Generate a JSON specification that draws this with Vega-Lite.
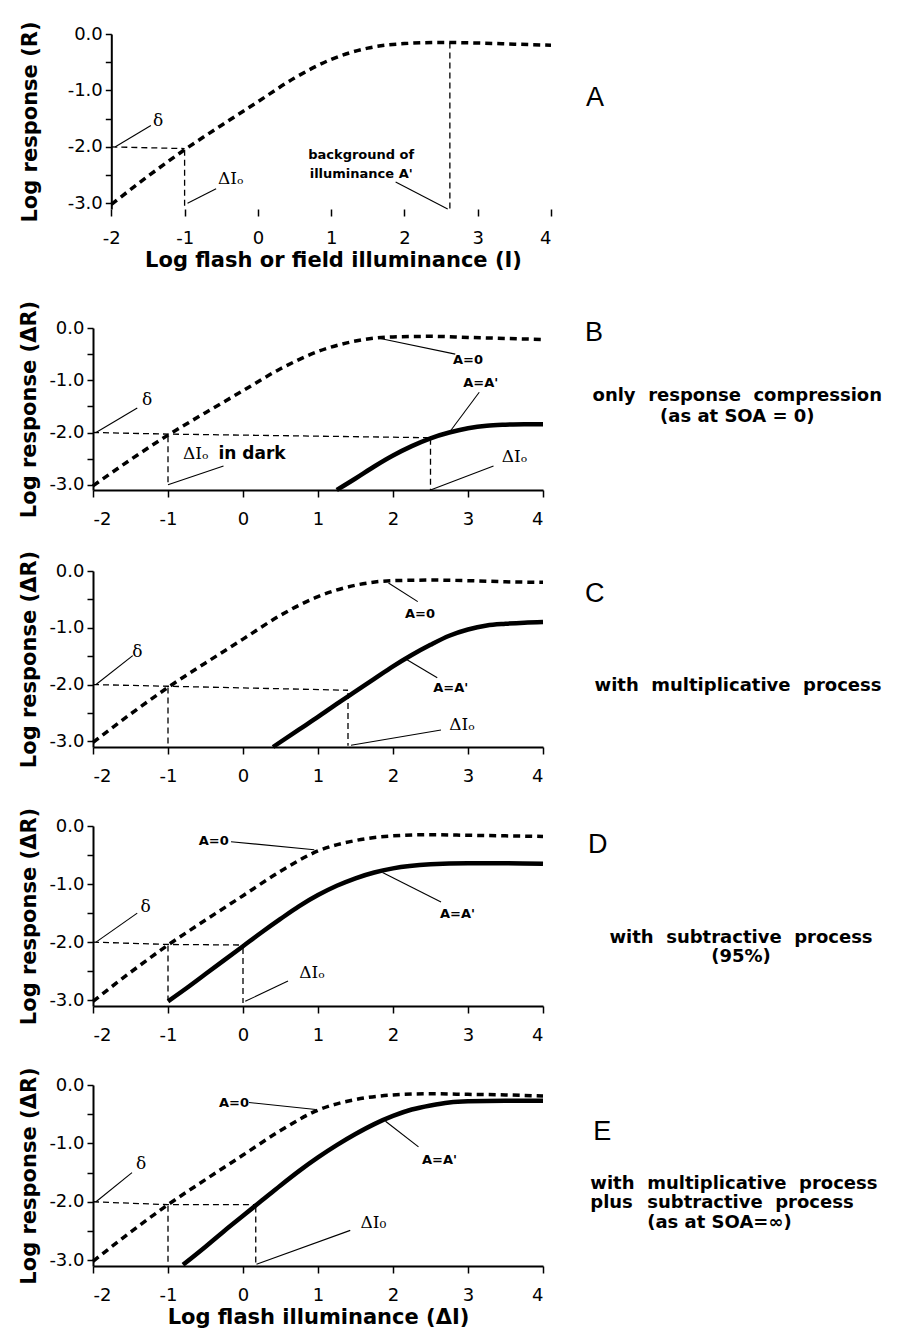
{
"$schema": "https://vega.github.io/schema/vega-lite/v6.json",
"padding": {"left": 18, "top": 20, "right": 5, "bottom": 3},
"background": "white",
"config": {
 "view": {"stroke": null},
 "axis": {"domainColor": "black", "domainWidth": 2, "tickColor": "black", "tickWidth": 1.5, "labelColor": "black", "titleColor": "black", "labelFont": "DejaVu Sans", "labelFontSize": 18, "titleFont": "DejaVu Sans", "titleFontSize": 21, "titleFontWeight": "bold", "grid": false},
 "axisX": {"tickSize": 7, "labelPadding": 13},
 "axisY": {"tickSize": 6, "labelPadding": 3}
},
"datasets": {
 "curves": [
  {"p":"A","s":"A0","x":-2,"y":-3.02},{"p":"A","s":"A0","x":-1.5,"y":-2.52},{"p":"A","s":"A0","x":-1,"y":-2.05},{"p":"A","s":"A0","x":-0.5,"y":-1.62},{"p":"A","s":"A0","x":0,"y":-1.2},{"p":"A","s":"A0","x":0.5,"y":-0.78},{"p":"A","s":"A0","x":1,"y":-0.45},{"p":"A","s":"A0","x":1.5,"y":-0.25},{"p":"A","s":"A0","x":2,"y":-0.17},{"p":"A","s":"A0","x":2.5,"y":-0.15},{"p":"A","s":"A0","x":3,"y":-0.16},{"p":"A","s":"A0","x":3.5,"y":-0.18},{"p":"A","s":"A0","x":4,"y":-0.2},
  {"p":"B","s":"A0","x":-2,"y":-3.02},{"p":"B","s":"A0","x":-1.5,"y":-2.52},{"p":"B","s":"A0","x":-1,"y":-2.05},{"p":"B","s":"A0","x":-0.5,"y":-1.62},{"p":"B","s":"A0","x":0,"y":-1.2},{"p":"B","s":"A0","x":0.5,"y":-0.78},{"p":"B","s":"A0","x":1,"y":-0.45},{"p":"B","s":"A0","x":1.5,"y":-0.25},{"p":"B","s":"A0","x":2,"y":-0.17},{"p":"B","s":"A0","x":2.5,"y":-0.16},{"p":"B","s":"A0","x":3,"y":-0.18},{"p":"B","s":"A0","x":3.5,"y":-0.2},{"p":"B","s":"A0","x":4,"y":-0.22},
  {"p":"C","s":"A0","x":-2,"y":-3.02},{"p":"C","s":"A0","x":-1.5,"y":-2.52},{"p":"C","s":"A0","x":-1,"y":-2.05},{"p":"C","s":"A0","x":-0.5,"y":-1.62},{"p":"C","s":"A0","x":0,"y":-1.2},{"p":"C","s":"A0","x":0.5,"y":-0.78},{"p":"C","s":"A0","x":1,"y":-0.45},{"p":"C","s":"A0","x":1.5,"y":-0.25},{"p":"C","s":"A0","x":2,"y":-0.17},{"p":"C","s":"A0","x":2.5,"y":-0.16},{"p":"C","s":"A0","x":3,"y":-0.17},{"p":"C","s":"A0","x":3.5,"y":-0.19},{"p":"C","s":"A0","x":4,"y":-0.2},
  {"p":"D","s":"A0","x":-2,"y":-3.02},{"p":"D","s":"A0","x":-1.5,"y":-2.52},{"p":"D","s":"A0","x":-1,"y":-2.05},{"p":"D","s":"A0","x":-0.5,"y":-1.62},{"p":"D","s":"A0","x":0,"y":-1.2},{"p":"D","s":"A0","x":0.5,"y":-0.78},{"p":"D","s":"A0","x":1,"y":-0.43},{"p":"D","s":"A0","x":1.5,"y":-0.25},{"p":"D","s":"A0","x":2,"y":-0.17},{"p":"D","s":"A0","x":2.5,"y":-0.15},{"p":"D","s":"A0","x":3,"y":-0.16},{"p":"D","s":"A0","x":3.5,"y":-0.17},{"p":"D","s":"A0","x":4,"y":-0.18},
  {"p":"E","s":"A0","x":-2,"y":-3.02},{"p":"E","s":"A0","x":-1.5,"y":-2.52},{"p":"E","s":"A0","x":-1,"y":-2.05},{"p":"E","s":"A0","x":-0.5,"y":-1.62},{"p":"E","s":"A0","x":0,"y":-1.2},{"p":"E","s":"A0","x":0.5,"y":-0.78},{"p":"E","s":"A0","x":1,"y":-0.43},{"p":"E","s":"A0","x":1.5,"y":-0.25},{"p":"E","s":"A0","x":2,"y":-0.17},{"p":"E","s":"A0","x":2.5,"y":-0.15},{"p":"E","s":"A0","x":3,"y":-0.16},{"p":"E","s":"A0","x":3.5,"y":-0.17},{"p":"E","s":"A0","x":4,"y":-0.19},
  {"p":"B","s":"AA","x":1.25,"y":-3.1},{"p":"B","s":"AA","x":1.5,"y":-2.88},{"p":"B","s":"AA","x":1.75,"y":-2.65},{"p":"B","s":"AA","x":2,"y":-2.44},{"p":"B","s":"AA","x":2.25,"y":-2.26},{"p":"B","s":"AA","x":2.5,"y":-2.11},{"p":"B","s":"AA","x":2.75,"y":-2.0},{"p":"B","s":"AA","x":3,"y":-1.92},{"p":"B","s":"AA","x":3.25,"y":-1.87},{"p":"B","s":"AA","x":3.5,"y":-1.85},{"p":"B","s":"AA","x":3.75,"y":-1.84},{"p":"B","s":"AA","x":4,"y":-1.84},
  {"p":"C","s":"AA","x":0.4,"y":-3.1},{"p":"C","s":"AA","x":0.75,"y":-2.79},{"p":"C","s":"AA","x":1,"y":-2.57},{"p":"C","s":"AA","x":1.25,"y":-2.34},{"p":"C","s":"AA","x":1.5,"y":-2.12},{"p":"C","s":"AA","x":1.75,"y":-1.9},{"p":"C","s":"AA","x":2,"y":-1.68},{"p":"C","s":"AA","x":2.25,"y":-1.48},{"p":"C","s":"AA","x":2.5,"y":-1.3},{"p":"C","s":"AA","x":2.75,"y":-1.14},{"p":"C","s":"AA","x":3,"y":-1.03},{"p":"C","s":"AA","x":3.25,"y":-0.96},{"p":"C","s":"AA","x":3.5,"y":-0.93},{"p":"C","s":"AA","x":3.75,"y":-0.91},{"p":"C","s":"AA","x":4,"y":-0.9},
  {"p":"D","s":"AA","x":-1,"y":-3.02},{"p":"D","s":"AA","x":-0.75,"y":-2.79},{"p":"D","s":"AA","x":-0.5,"y":-2.55},{"p":"D","s":"AA","x":-0.25,"y":-2.31},{"p":"D","s":"AA","x":0,"y":-2.07},{"p":"D","s":"AA","x":0.25,"y":-1.83},{"p":"D","s":"AA","x":0.5,"y":-1.6},{"p":"D","s":"AA","x":0.75,"y":-1.38},{"p":"D","s":"AA","x":1,"y":-1.19},{"p":"D","s":"AA","x":1.25,"y":-1.03},{"p":"D","s":"AA","x":1.5,"y":-0.9},{"p":"D","s":"AA","x":1.75,"y":-0.8},{"p":"D","s":"AA","x":2,"y":-0.73},{"p":"D","s":"AA","x":2.5,"y":-0.66},{"p":"D","s":"AA","x":3,"y":-0.64},{"p":"D","s":"AA","x":3.5,"y":-0.64},{"p":"D","s":"AA","x":4,"y":-0.65},
  {"p":"E","s":"AA","x":-0.8,"y":-3.08},{"p":"E","s":"AA","x":-0.5,"y":-2.77},{"p":"E","s":"AA","x":-0.25,"y":-2.5},{"p":"E","s":"AA","x":0,"y":-2.24},{"p":"E","s":"AA","x":0.25,"y":-1.98},{"p":"E","s":"AA","x":0.5,"y":-1.72},{"p":"E","s":"AA","x":0.75,"y":-1.47},{"p":"E","s":"AA","x":1,"y":-1.24},{"p":"E","s":"AA","x":1.25,"y":-1.03},{"p":"E","s":"AA","x":1.5,"y":-0.84},{"p":"E","s":"AA","x":1.75,"y":-0.67},{"p":"E","s":"AA","x":2,"y":-0.53},{"p":"E","s":"AA","x":2.25,"y":-0.42},{"p":"E","s":"AA","x":2.5,"y":-0.35},{"p":"E","s":"AA","x":2.75,"y":-0.3},{"p":"E","s":"AA","x":3,"y":-0.28},{"p":"E","s":"AA","x":3.5,"y":-0.27},{"p":"E","s":"AA","x":4,"y":-0.27}
 ],
 "guides": [
  {"p":"A","g":"g1","x":-2,"y":-2.0},{"p":"A","g":"g1","x":-1,"y":-2.03},
  {"p":"A","g":"g2","x":-1,"y":-2.05},{"p":"A","g":"g2","x":-1,"y":-3.08},
  {"p":"A","g":"g3","x":2.62,"y":-0.15},{"p":"A","g":"g3","x":2.62,"y":-3.1},
  {"p":"B","g":"g1","x":-2,"y":-2.0},{"p":"B","g":"g1","x":-1,"y":-2.03},{"p":"B","g":"g1","x":2.5,"y":-2.1},
  {"p":"B","g":"g2","x":-1,"y":-2.07},{"p":"B","g":"g2","x":-1,"y":-3.0},
  {"p":"B","g":"g3","x":2.5,"y":-2.12},{"p":"B","g":"g3","x":2.5,"y":-3.1},
  {"p":"C","g":"g1","x":-2,"y":-2.0},{"p":"C","g":"g1","x":-1,"y":-2.03},{"p":"C","g":"g1","x":1.4,"y":-2.1},
  {"p":"C","g":"g2","x":-1,"y":-2.05},{"p":"C","g":"g2","x":-1,"y":-3.08},
  {"p":"C","g":"g3","x":1.4,"y":-2.15},{"p":"C","g":"g3","x":1.4,"y":-3.08},
  {"p":"D","g":"g1","x":-2,"y":-2.0},{"p":"D","g":"g1","x":-1,"y":-2.04},{"p":"D","g":"g1","x":0,"y":-2.05},
  {"p":"D","g":"g2","x":-1,"y":-2.06},{"p":"D","g":"g2","x":-1,"y":-3.0},
  {"p":"D","g":"g3","x":0,"y":-2.1},{"p":"D","g":"g3","x":0,"y":-3.05},
  {"p":"E","g":"g1","x":-2,"y":-2.0},{"p":"E","g":"g1","x":-1,"y":-2.05},{"p":"E","g":"g1","x":0.17,"y":-2.05},
  {"p":"E","g":"g2","x":-1,"y":-2.07},{"p":"E","g":"g2","x":-1,"y":-3.05},
  {"p":"E","g":"g3","x":0.17,"y":-2.08},{"p":"E","g":"g3","x":0.17,"y":-3.05}
 ],
 "leaders": [
  {"p":"A","g":"d","x":-1.95,"y":-2.0},{"p":"A","g":"d","x":-1.46,"y":-1.62},
  {"p":"A","g":"i","x":-0.96,"y":-3.0},{"p":"A","g":"i","x":-0.57,"y":-2.74},
  {"p":"A","g":"b","x":1.88,"y":-2.62},{"p":"A","g":"b","x":2.59,"y":-3.1},
  {"p":"B","g":"d","x":-1.96,"y":-2.0},{"p":"B","g":"d","x":-1.41,"y":-1.53},
  {"p":"B","g":"i1","x":-1.0,"y":-3.0},{"p":"B","g":"i1","x":-0.26,"y":-2.64},
  {"p":"B","g":"i2","x":2.5,"y":-3.1},{"p":"B","g":"i2","x":3.34,"y":-2.64},
  {"p":"B","g":"a0","x":1.83,"y":-0.2},{"p":"B","g":"a0","x":2.83,"y":-0.5},
  {"p":"B","g":"aa","x":2.76,"y":-1.98},{"p":"B","g":"aa","x":3.15,"y":-1.23},
  {"p":"C","g":"d","x":-1.96,"y":-2.0},{"p":"C","g":"d","x":-1.47,"y":-1.49},
  {"p":"C","g":"a0","x":1.94,"y":-0.21},{"p":"C","g":"a0","x":2.33,"y":-0.54},
  {"p":"C","g":"aa","x":2.17,"y":-1.55},{"p":"C","g":"aa","x":2.59,"y":-1.88},
  {"p":"C","g":"i","x":1.44,"y":-3.07},{"p":"C","g":"i","x":2.64,"y":-2.8},
  {"p":"D","g":"d","x":-1.96,"y":-2.0},{"p":"D","g":"d","x":-1.41,"y":-1.5},
  {"p":"D","g":"a0","x":-0.16,"y":-0.27},{"p":"D","g":"a0","x":0.95,"y":-0.41},
  {"p":"D","g":"aa","x":1.86,"y":-0.8},{"p":"D","g":"aa","x":2.64,"y":-1.31},
  {"p":"D","g":"i","x":0.03,"y":-3.02},{"p":"D","g":"i","x":0.6,"y":-2.67},
  {"p":"E","g":"d","x":-1.96,"y":-2.0},{"p":"E","g":"d","x":-1.48,"y":-1.5},
  {"p":"E","g":"a0","x":0.08,"y":-0.3},{"p":"E","g":"a0","x":0.97,"y":-0.42},
  {"p":"E","g":"aa","x":1.9,"y":-0.62},{"p":"E","g":"aa","x":2.34,"y":-1.06},
  {"p":"E","g":"i","x":0.18,"y":-3.07},{"p":"E","g":"i","x":1.43,"y":-2.49}
 ],
 "ann": [
  {"p":"A","t":"background of","x":1.41,"y":-2.15},{"p":"A","t":"illuminance A'","x":1.41,"y":-2.48},
  {"p":"B","t":"A=0","x":3.0,"y":-0.62},{"p":"B","t":"A=A'","x":3.17,"y":-1.05},
  {"p":"C","t":"A=0","x":2.36,"y":-0.75},{"p":"C","t":"A=A'","x":2.77,"y":-2.06},
  {"p":"D","t":"A=0","x":-0.39,"y":-0.26},{"p":"D","t":"A=A'","x":2.86,"y":-1.51},
  {"p":"E","t":"A=0","x":-0.12,"y":-0.3},{"p":"E","t":"A=A'","x":2.62,"y":-1.28}
 ],
 "annBig": [
  {"p":"B","t":"in dark","x":0.12,"y":-2.41}
 ],
 "serif": [
  {"p":"A","t":"δ","x":-1.36,"y":-1.54},{"p":"A","t":"ΔIₒ","x":-0.37,"y":-2.56},
  {"p":"B","t":"δ","x":-1.28,"y":-1.38},{"p":"B","t":"ΔIₒ","x":-0.63,"y":-2.41},{"p":"B","t":"ΔIₒ","x":3.62,"y":-2.46},
  {"p":"C","t":"δ","x":-1.41,"y":-1.43},{"p":"C","t":"ΔIₒ","x":2.92,"y":-2.71},
  {"p":"D","t":"δ","x":-1.3,"y":-1.39},{"p":"D","t":"ΔIₒ","x":0.92,"y":-2.53},
  {"p":"E","t":"δ","x":-1.36,"y":-1.35},{"p":"E","t":"ΔI₀","x":1.74,"y":-2.37}
 ],
 "letters": [
  {"p":"A","t":"A","x":4.6,"y":-1.14},
  {"p":"B","t":"B","x":4.68,"y":-0.1},
  {"p":"C","t":"C","x":4.69,"y":-0.4},
  {"p":"D","t":"D","x":4.73,"y":-0.33},
  {"p":"E","t":"E","x":4.79,"y":-0.81}
 ],
 "desc": [
  {"p":"B","t":"only\u00a0\u00a0response\u00a0\u00a0compression","x":6.59,"y":-1.3},
  {"p":"B","t":"(as at SOA = 0)","x":6.59,"y":-1.7},
  {"p":"C","t":"with\u00a0\u00a0multiplicative\u00a0\u00a0process","x":6.6,"y":-2.03},
  {"p":"D","t":"with\u00a0\u00a0subtractive\u00a0\u00a0process","x":6.64,"y":-1.93},
  {"p":"D","t":"(95%)","x":6.64,"y":-2.26}
 ],
 "descE": [
  {"p":"E","t":"with","x":4.63,"y":-1.69},
  {"p":"E","t":"plus","x":4.63,"y":-2.02},
  {"p":"E","t":"multiplicative\u00a0\u00a0process","x":5.39,"y":-1.69},
  {"p":"E","t":"subtractive\u00a0\u00a0process","x":5.39,"y":-2.02},
  {"p":"E","t":"(as at SOA=∞)","x":5.39,"y":-2.36}
 ]
},
"columns": 1,
"bounds": "full",
"align": "none",
"spacing": 30,
"concat": [
 {
  "width": 458, "height": 175,
  "encoding": {
   "x": {"field": "x", "type": "quantitative", "scale": {"domain": [-2.25, 4], "nice": false, "zero": false}, "axis": {"values": [-2,-1,0,1,2,3,4], "labelExpr": "(datum.value<0?'-':'')+abs(datum.value)", "domain": false, "title": "Log flash or field illuminance (I)", "titlePadding": 2, "titleX": 240}},
   "y": {"field": "y", "type": "quantitative", "scale": {"domain": [-3.1, 0], "nice": false, "zero": false}, "axis": {"values": [0,-0.5,-1,-1.5,-2,-2.5,-3], "labelExpr": "datum.value%1!=0?'':(datum.value<0?'-':'')+format(abs(datum.value),'.1f')", "title": "Log response (R)", "titlePadding": 27, "offset": -18.3}}
  },
  "layer": [
   {"data": {"values": [{}]}, "mark": {"type": "rule", "stroke": "black", "strokeWidth": 2}, "encoding": {"x": {"datum": -2}, "x2": {"datum": 4}, "y": {"datum": -3.1}}},
   {"data": {"name": "guides"}, "transform": [{"filter": "datum.p=='A'"}], "mark": {"type": "line", "stroke": "black", "strokeWidth": 1.3, "strokeDash": [6,4]}, "encoding": {"detail": {"field": "g"}}},
   {"data": {"name": "leaders"}, "transform": [{"filter": "datum.p=='A'"}], "mark": {"type": "line", "stroke": "black", "strokeWidth": 1.1}, "encoding": {"detail": {"field": "g"}}},
   {"data": {"name": "curves"}, "transform": [{"filter": "datum.p=='A' && datum.s=='A0'"}], "mark": {"type": "line", "stroke": "black", "strokeWidth": 3.5, "strokeDash": [7,5], "interpolate": "monotone"}, "encoding": {}},
   {"data": {"name": "ann"}, "transform": [{"filter": "datum.p=='A'"}], "mark": {"type": "text", "font": "DejaVu Sans", "fontWeight": "bold", "fontSize": 13, "color": "black"}, "encoding": {"text": {"field": "t"}}},
   {"data": {"name": "serif"}, "transform": [{"filter": "datum.p=='A'"}], "mark": {"type": "text", "font": "DejaVu Serif", "fontSize": 17, "color": "black"}, "encoding": {"text": {"field": "t"}}},
   {"data": {"name": "letters"}, "transform": [{"filter": "datum.p=='A'"}], "mark": {"type": "text", "font": "Liberation Sans", "fontSize": 27, "color": "black"}, "encoding": {"text": {"field": "t"}}}
  ]
 },
 {
  "columns": 1,
  "bounds": "full",
  "align": "none",
  "spacing": 22,
  "concat": [
   {
    "width": 450, "height": 162,
    "encoding": {
     "x": {"field": "x", "type": "quantitative", "scale": {"domain": [-2, 4], "nice": false, "zero": false}, "axis": {"values": [-2,-1,0,1,2,3,4], "labelExpr": "(datum.value<0?'-':'')+abs(datum.value)", "title": null}},
     "y": {"field": "y", "type": "quantitative", "scale": {"domain": [-3.1, 0], "nice": false, "zero": false}, "axis": {"values": [0,-0.5,-1,-1.5,-2,-2.5,-3], "labelExpr": "datum.value%1!=0?'':(datum.value<0?'-':'')+format(abs(datum.value),'.1f')", "title": "Log response (ΔR)", "titlePadding": 9}}
    },
    "layer": [
     {"data": {"name": "guides"}, "transform": [{"filter": "datum.p=='B'"}], "mark": {"type": "line", "stroke": "black", "strokeWidth": 1.3, "strokeDash": [6,4]}, "encoding": {"detail": {"field": "g"}}},
     {"data": {"name": "leaders"}, "transform": [{"filter": "datum.p=='B'"}], "mark": {"type": "line", "stroke": "black", "strokeWidth": 1.1}, "encoding": {"detail": {"field": "g"}}},
     {"data": {"name": "curves"}, "transform": [{"filter": "datum.p=='B' && datum.s=='A0'"}], "mark": {"type": "line", "stroke": "black", "strokeWidth": 3.5, "strokeDash": [7,5], "interpolate": "monotone"}, "encoding": {}},
     {"data": {"name": "curves"}, "transform": [{"filter": "datum.p=='B' && datum.s=='AA'"}], "mark": {"type": "line", "stroke": "black", "strokeWidth": 4.5, "interpolate": "monotone"}, "encoding": {}},
     {"data": {"name": "ann"}, "transform": [{"filter": "datum.p=='B'"}], "mark": {"type": "text", "font": "DejaVu Sans", "fontWeight": "bold", "fontSize": 13, "color": "black"}, "encoding": {"text": {"field": "t"}}},
     {"data": {"name": "annBig"}, "transform": [{"filter": "datum.p=='B'"}], "mark": {"type": "text", "font": "DejaVu Sans", "fontWeight": "bold", "fontSize": 17, "color": "black"}, "encoding": {"text": {"field": "t"}}},
     {"data": {"name": "serif"}, "transform": [{"filter": "datum.p=='B'"}], "mark": {"type": "text", "font": "DejaVu Serif", "fontSize": 17, "color": "black"}, "encoding": {"text": {"field": "t"}}},
     {"data": {"name": "letters"}, "transform": [{"filter": "datum.p=='B'"}], "mark": {"type": "text", "font": "Liberation Sans", "fontSize": 27, "color": "black"}, "encoding": {"text": {"field": "t"}}},
     {"data": {"name": "desc"}, "transform": [{"filter": "datum.p=='B'"}], "mark": {"type": "text", "font": "DejaVu Sans", "fontWeight": "bold", "fontSize": 18, "color": "black"}, "encoding": {"text": {"field": "t"}}}
    ]
   },
   {
    "width": 450, "height": 176,
    "encoding": {
     "x": {"field": "x", "type": "quantitative", "scale": {"domain": [-2, 4], "nice": false, "zero": false}, "axis": {"values": [-2,-1,0,1,2,3,4], "labelExpr": "(datum.value<0?'-':'')+abs(datum.value)", "title": null}},
     "y": {"field": "y", "type": "quantitative", "scale": {"domain": [-3.1, 0], "nice": false, "zero": false}, "axis": {"values": [0,-0.5,-1,-1.5,-2,-2.5,-3], "labelExpr": "datum.value%1!=0?'':(datum.value<0?'-':'')+format(abs(datum.value),'.1f')", "title": "Log response (ΔR)", "titlePadding": 9}}
    },
    "layer": [
     {"data": {"name": "guides"}, "transform": [{"filter": "datum.p=='C'"}], "mark": {"type": "line", "stroke": "black", "strokeWidth": 1.3, "strokeDash": [6,4]}, "encoding": {"detail": {"field": "g"}}},
     {"data": {"name": "leaders"}, "transform": [{"filter": "datum.p=='C'"}], "mark": {"type": "line", "stroke": "black", "strokeWidth": 1.1}, "encoding": {"detail": {"field": "g"}}},
     {"data": {"name": "curves"}, "transform": [{"filter": "datum.p=='C' && datum.s=='A0'"}], "mark": {"type": "line", "stroke": "black", "strokeWidth": 3.5, "strokeDash": [7,5], "interpolate": "monotone"}, "encoding": {}},
     {"data": {"name": "curves"}, "transform": [{"filter": "datum.p=='C' && datum.s=='AA'"}], "mark": {"type": "line", "stroke": "black", "strokeWidth": 4.5, "interpolate": "monotone"}, "encoding": {}},
     {"data": {"name": "ann"}, "transform": [{"filter": "datum.p=='C'"}], "mark": {"type": "text", "font": "DejaVu Sans", "fontWeight": "bold", "fontSize": 13, "color": "black"}, "encoding": {"text": {"field": "t"}}},
     {"data": {"name": "serif"}, "transform": [{"filter": "datum.p=='C'"}], "mark": {"type": "text", "font": "DejaVu Serif", "fontSize": 17, "color": "black"}, "encoding": {"text": {"field": "t"}}},
     {"data": {"name": "letters"}, "transform": [{"filter": "datum.p=='C'"}], "mark": {"type": "text", "font": "Liberation Sans", "fontSize": 27, "color": "black"}, "encoding": {"text": {"field": "t"}}},
     {"data": {"name": "desc"}, "transform": [{"filter": "datum.p=='C'"}], "mark": {"type": "text", "font": "DejaVu Sans", "fontWeight": "bold", "fontSize": 18, "color": "black"}, "encoding": {"text": {"field": "t"}}}
    ]
   },
   {
    "width": 450, "height": 180,
    "encoding": {
     "x": {"field": "x", "type": "quantitative", "scale": {"domain": [-2, 4], "nice": false, "zero": false}, "axis": {"values": [-2,-1,0,1,2,3,4], "labelExpr": "(datum.value<0?'-':'')+abs(datum.value)", "title": null}},
     "y": {"field": "y", "type": "quantitative", "scale": {"domain": [-3.1, 0], "nice": false, "zero": false}, "axis": {"values": [0,-0.5,-1,-1.5,-2,-2.5,-3], "labelExpr": "datum.value%1!=0?'':(datum.value<0?'-':'')+format(abs(datum.value),'.1f')", "title": "Log response (ΔR)", "titlePadding": 9}}
    },
    "layer": [
     {"data": {"name": "guides"}, "transform": [{"filter": "datum.p=='D'"}], "mark": {"type": "line", "stroke": "black", "strokeWidth": 1.3, "strokeDash": [6,4]}, "encoding": {"detail": {"field": "g"}}},
     {"data": {"name": "leaders"}, "transform": [{"filter": "datum.p=='D'"}], "mark": {"type": "line", "stroke": "black", "strokeWidth": 1.1}, "encoding": {"detail": {"field": "g"}}},
     {"data": {"name": "curves"}, "transform": [{"filter": "datum.p=='D' && datum.s=='A0'"}], "mark": {"type": "line", "stroke": "black", "strokeWidth": 3.5, "strokeDash": [7,5], "interpolate": "monotone"}, "encoding": {}},
     {"data": {"name": "curves"}, "transform": [{"filter": "datum.p=='D' && datum.s=='AA'"}], "mark": {"type": "line", "stroke": "black", "strokeWidth": 4.5, "interpolate": "monotone"}, "encoding": {}},
     {"data": {"name": "ann"}, "transform": [{"filter": "datum.p=='D'"}], "mark": {"type": "text", "font": "DejaVu Sans", "fontWeight": "bold", "fontSize": 13, "color": "black"}, "encoding": {"text": {"field": "t"}}},
     {"data": {"name": "serif"}, "transform": [{"filter": "datum.p=='D'"}], "mark": {"type": "text", "font": "DejaVu Serif", "fontSize": 17, "color": "black"}, "encoding": {"text": {"field": "t"}}},
     {"data": {"name": "letters"}, "transform": [{"filter": "datum.p=='D'"}], "mark": {"type": "text", "font": "Liberation Sans", "fontSize": 27, "color": "black"}, "encoding": {"text": {"field": "t"}}},
     {"data": {"name": "desc"}, "transform": [{"filter": "datum.p=='D'"}], "mark": {"type": "text", "font": "DejaVu Sans", "fontWeight": "bold", "fontSize": 18, "color": "black"}, "encoding": {"text": {"field": "t"}}}
    ]
   },
   {
    "width": 450, "height": 181,
    "encoding": {
     "x": {"field": "x", "type": "quantitative", "scale": {"domain": [-2, 4], "nice": false, "zero": false}, "axis": {"values": [-2,-1,0,1,2,3,4], "labelExpr": "(datum.value<0?'-':'')+abs(datum.value)", "title": "Log flash illuminance (ΔI)", "titlePadding": 2}},
     "y": {"field": "y", "type": "quantitative", "scale": {"domain": [-3.1, 0], "nice": false, "zero": false}, "axis": {"values": [0,-0.5,-1,-1.5,-2,-2.5,-3], "labelExpr": "datum.value%1!=0?'':(datum.value<0?'-':'')+format(abs(datum.value),'.1f')", "title": "Log response (ΔR)", "titlePadding": 9}}
    },
    "layer": [
     {"data": {"name": "guides"}, "transform": [{"filter": "datum.p=='E'"}], "mark": {"type": "line", "stroke": "black", "strokeWidth": 1.3, "strokeDash": [6,4]}, "encoding": {"detail": {"field": "g"}}},
     {"data": {"name": "leaders"}, "transform": [{"filter": "datum.p=='E'"}], "mark": {"type": "line", "stroke": "black", "strokeWidth": 1.1}, "encoding": {"detail": {"field": "g"}}},
     {"data": {"name": "curves"}, "transform": [{"filter": "datum.p=='E' && datum.s=='A0'"}], "mark": {"type": "line", "stroke": "black", "strokeWidth": 3.5, "strokeDash": [7,5], "interpolate": "monotone"}, "encoding": {}},
     {"data": {"name": "curves"}, "transform": [{"filter": "datum.p=='E' && datum.s=='AA'"}], "mark": {"type": "line", "stroke": "black", "strokeWidth": 4.5, "interpolate": "monotone"}, "encoding": {}},
     {"data": {"name": "ann"}, "transform": [{"filter": "datum.p=='E'"}], "mark": {"type": "text", "font": "DejaVu Sans", "fontWeight": "bold", "fontSize": 13, "color": "black"}, "encoding": {"text": {"field": "t"}}},
     {"data": {"name": "serif"}, "transform": [{"filter": "datum.p=='E'"}], "mark": {"type": "text", "font": "DejaVu Serif", "fontSize": 17, "color": "black"}, "encoding": {"text": {"field": "t"}}},
     {"data": {"name": "letters"}, "transform": [{"filter": "datum.p=='E'"}], "mark": {"type": "text", "font": "Liberation Sans", "fontSize": 27, "color": "black"}, "encoding": {"text": {"field": "t"}}},
     {"data": {"name": "descE"}, "transform": [{"filter": "datum.p=='E'"}], "mark": {"type": "text", "font": "DejaVu Sans", "fontWeight": "bold", "fontSize": 18, "color": "black", "align": "left"}, "encoding": {"text": {"field": "t"}}}
    ]
   }
  ]
 }
]
}
